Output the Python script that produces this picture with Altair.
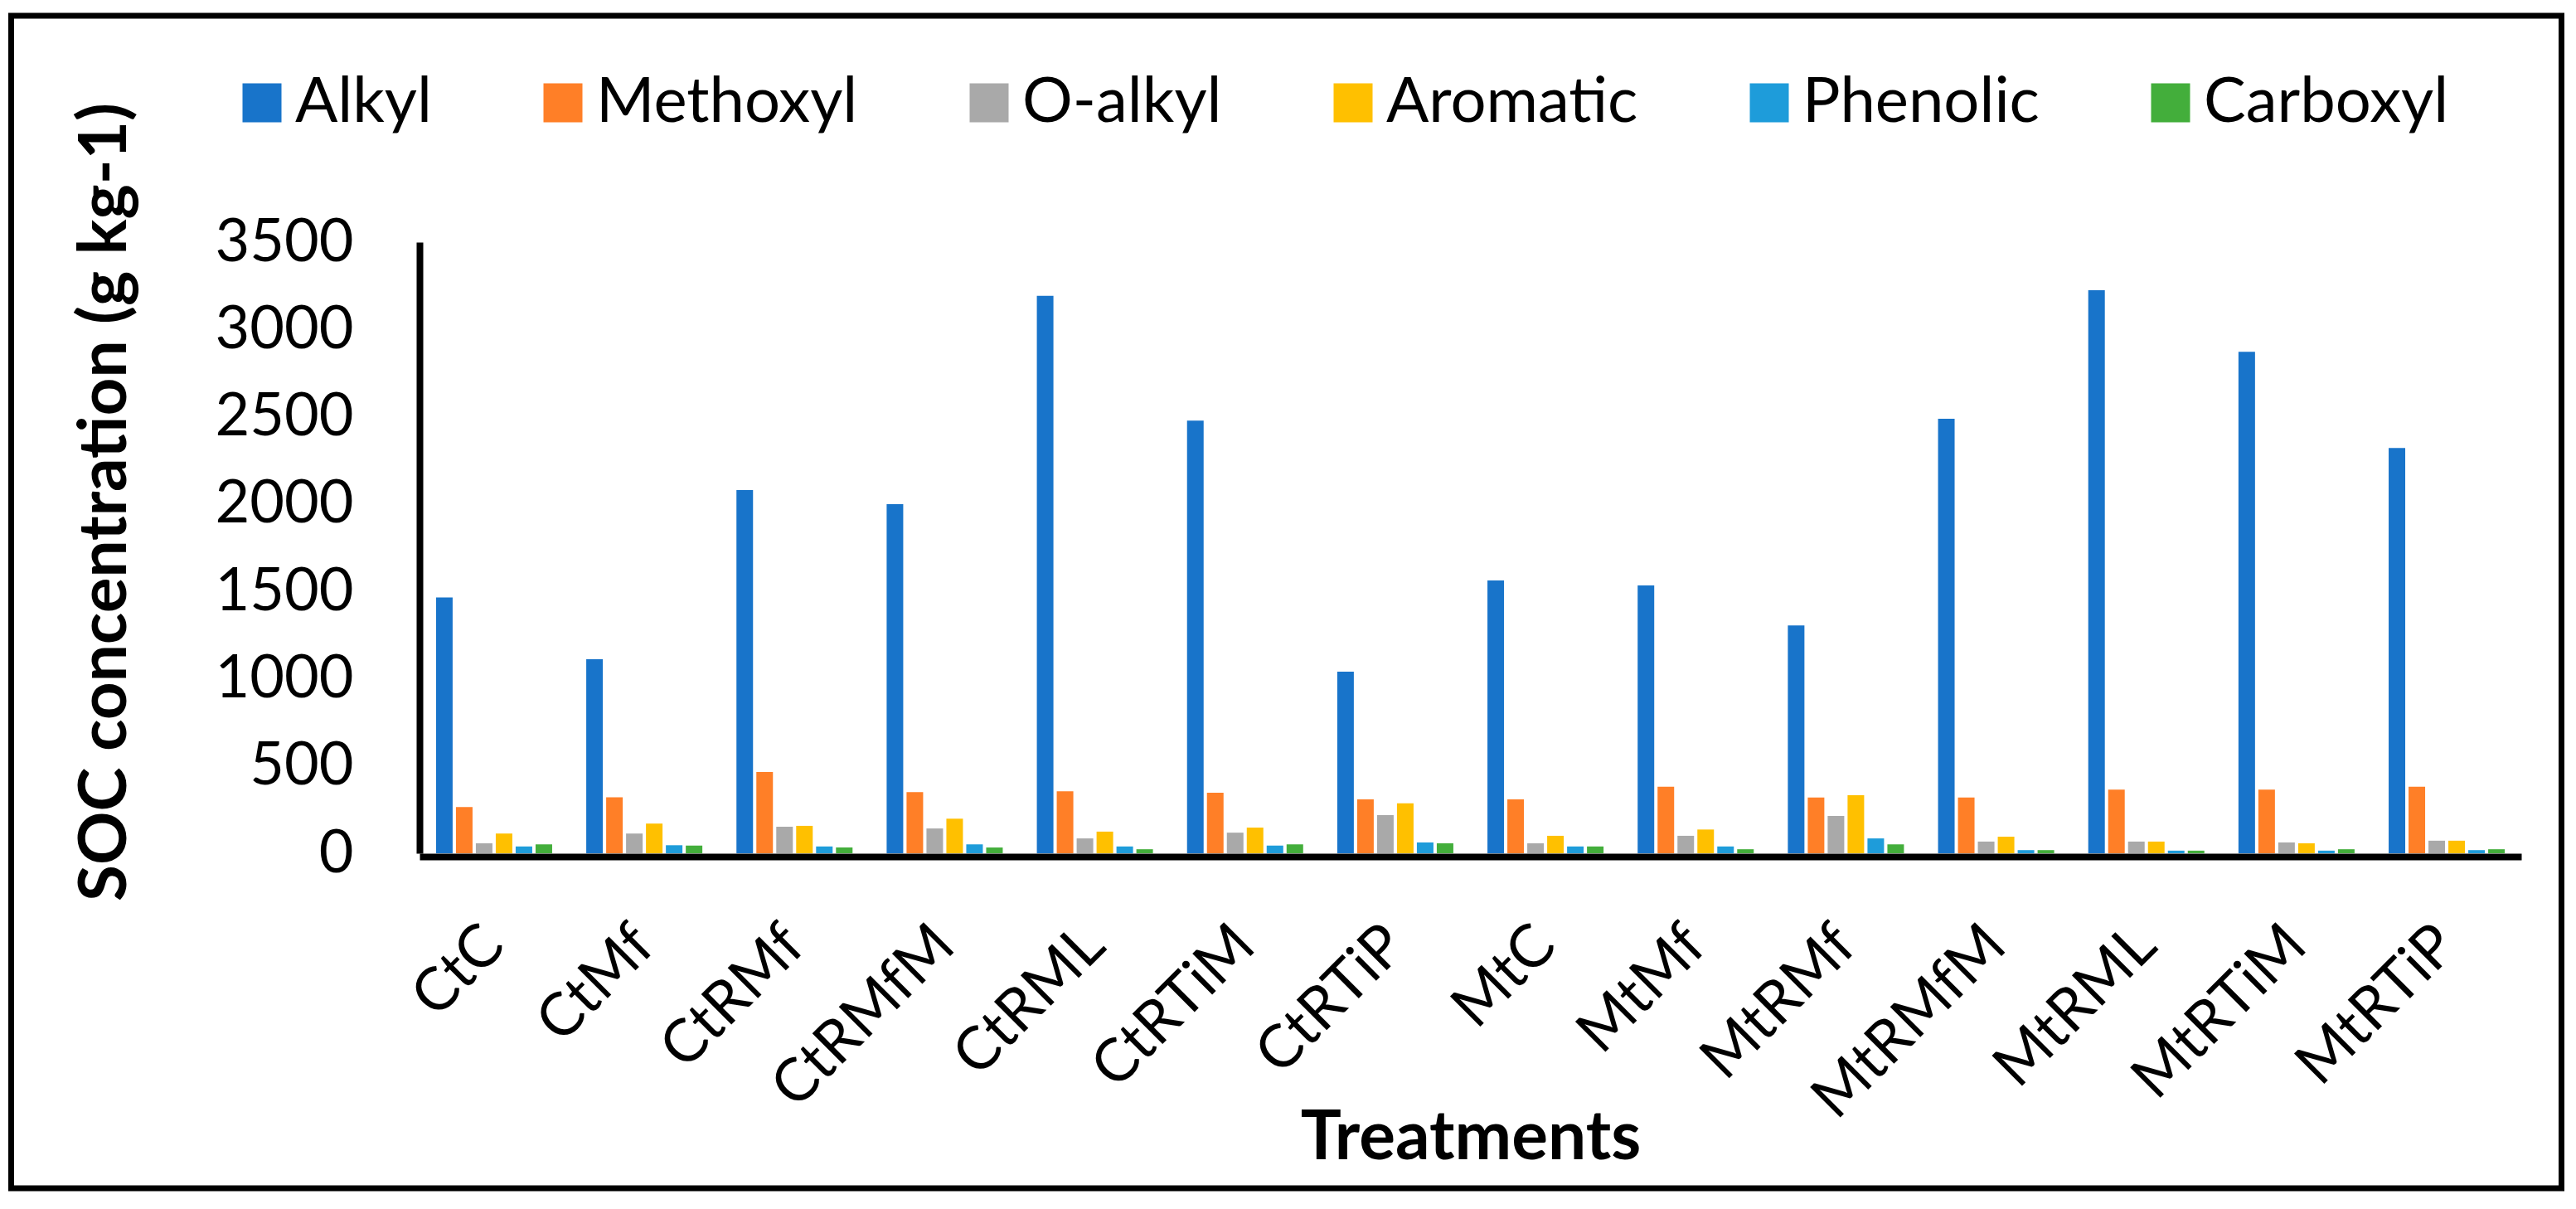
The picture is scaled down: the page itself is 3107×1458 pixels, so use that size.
import altair as alt
import pandas as pd

treatments = ["CtC", "CtMf", "CtRMf", "CtRMfM", "CtRML", "CtRTiM", "CtRTiP",
              "MtC", "MtMf", "MtRMf", "MtRMfM", "MtRML", "MtRTiM", "MtRTiP"]
series = ["Alkyl", "Methoxyl", "O-alkyl", "Aromatic", "Phenolic", "Carboxyl"]
colors = ["#1874CA", "#FF7F27", "#A9A9A9", "#FFC000", "#1E9CDA", "#43AE3B"]

alkyl    = [1465, 1111, 2080, 1999, 3193, 2478, 1040, 1562, 1534, 1305, 2488, 3224, 2872, 2321]
methoxyl = [265, 321, 465, 350, 355, 347, 309, 309, 381, 319, 319, 365, 365, 381]
o_alkyl  = [57, 113, 152, 142, 85, 118, 219, 57, 100, 214, 67, 67, 62, 72]
aromatic = [113, 170, 157, 198, 124, 147, 286, 100, 136, 332, 95, 67, 57, 72]
phenolic = [39, 46, 39, 51, 39, 44, 62, 39, 39, 85, 18, 15, 15, 18]
carboxyl = [51, 44, 33, 33, 23, 51, 57, 39, 23, 51, 18, 15, 23, 23]
y_ticks = [0, 500, 1000, 1500, 2000, 2500, 3000, 3500]

values = [alkyl, methoxyl, o_alkyl, aromatic, phenolic, carboxyl]
rows = []
for s, vals in zip(series, values):
    for t, v in zip(treatments, vals):
        rows.append({"Treatment": t, "Group": s, "Value": v})
df = pd.DataFrame(rows)

FONT = "Lato"

bars = alt.Chart(df).mark_bar().encode(
    x=alt.X("Treatment:N", sort=treatments,
            scale=alt.Scale(paddingInner=0.227, paddingOuter=0.11),
            axis=alt.Axis(title="Treatments", titleFont=FONT, titleFontWeight="bold",
                          titleFontSize=82, titleColor="black", titleY=364,
                          titleBaseline="alphabetic",
                          labelAngle=-45, labelAlign="right", labelBaseline="middle",
                          labelFont=FONT, labelFontSize=72, labelColor="black",
                          labelPadding=95, labelOverlap=False, labelLimit=1000,
                          ticks=False, tickSize=0, domainColor="black", domainWidth=8,
                          offset=4, grid=False)),
    xOffset=alt.XOffset("Group:N", sort=series,
                        scale=alt.Scale(paddingInner=0.167, paddingOuter=0)),
    y=alt.Y("Value:Q", scale=alt.Scale(domain=[0, 3500], nice=False),
            axis=alt.Axis(title="SOC concentration (g kg-1)",
                          values=y_ticks, format="d", labelLimit=1000,
                          titleFont=FONT, titleFontWeight="bold", titleFontSize=80,
                          titleColor="black", titleX=-355, titleY=313, titleAngle=270,
                          titleBaseline="alphabetic", titleAlign="center",
                          labelFont=FONT, labelFontSize=72, labelColor="black",
                          labelPadding=80, ticks=False, tickSize=0,
                          domainColor="black", domainWidth=8, grid=False)),
    color=alt.Color("Group:N", sort=series,
                    scale=alt.Scale(domain=series, range=colors),
                    legend=alt.Legend(orient="none", legendX=-228, legendY=-206,
                                      direction="horizontal", columns=6, title=None,
                                      symbolType="square", symbolSize=2209,
                                      symbolStrokeWidth=0, labelFont=FONT,
                                      labelFontSize=76, labelColor="black",
                                      labelOffset=2, columnPadding=120,
                                      labelLimit=1000)),
)

frame_df = pd.DataFrame({"k": [0]})
frame = alt.Chart(frame_df).mark_rect(fill=None, stroke="black", strokeWidth=7).encode(
    x=alt.value(-492.5), x2=alt.value(2583.5), y=alt.value(-273), y2=alt.value(1141)
)

chart = alt.layer(bars, frame).properties(
    width=2535, height=737,
    autosize=alt.AutoSizeParams(type="none"),
    padding={"left": 498, "top": 284, "right": 58, "bottom": 411},
    background="white",
).configure_view(stroke=None)

chart.save("out.html", embed_options={"renderer": "svg", "actions": False})
